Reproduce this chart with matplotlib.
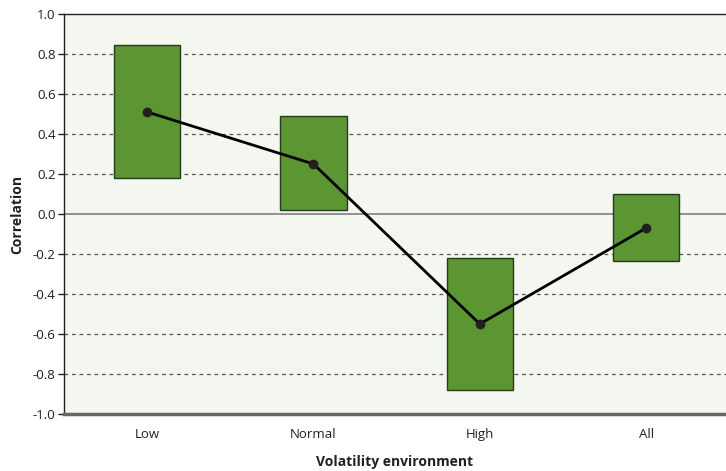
import matplotlib.pyplot as plt

categories = ["Low", "Normal", "High", "All"]
upper = [0.845, 0.49, -0.22, 0.10]
lower = [0.18, 0.02, -0.88, -0.235]
point = [0.51, 0.25, -0.55, -0.07]

plt.rcParams["font.family"] = ["Open Sans", "DejaVu Sans"]

fig = plt.figure(figsize=(7.26, 4.71), dpi=100)
ax = fig.add_axes([64 / 726, 57 / 471, 662 / 726, 400 / 471])
ax.set_facecolor("#f4f6f0")

x = list(range(len(categories)))
heights = [u - l for u, l in zip(upper, lower)]
ax.bar(x, heights, bottom=lower, width=0.4, color="#5b9632",
       edgecolor="#2a3a20", linewidth=1, zorder=3)
ax.plot(x, point, color="black", linewidth=2, marker="o", markersize=6,
        markerfacecolor="#231f20", markeredgecolor="#231f20", zorder=4)

ax.set_xlim(-0.5, 3.48)
ax.set_ylim(-1.0, 1.0)
yt = [-1.0 + 0.2 * i for i in range(11)]
ax.set_yticks(yt)
ax.set_yticklabels([f"{v:.1f}" for v in yt], fontsize=9.5, color="#231f20")
ax.set_xticks(x)
ax.set_xticklabels(categories, fontsize=9.5, color="#231f20")
ax.tick_params(axis="x", length=0, pad=10)
ax.tick_params(axis="y", length=4, width=1, color="#231f20", pad=2)

# dashed gridlines, solid line at zero
for v in yt[1:-1]:
    if abs(v) < 1e-9:
        ax.axhline(0, color="#808080", linewidth=1.2, zorder=2)
    else:
        ax.axhline(v, color="#555555", linewidth=0.9, linestyle=(0, (3, 3)), zorder=2)

ax.spines["right"].set_visible(False)
ax.spines["top"].set_color("#231f20")
ax.spines["top"].set_linewidth(1)
ax.spines["left"].set_color("#231f20")
ax.spines["left"].set_linewidth(1)
ax.spines["bottom"].set_color("#666666")
ax.spines["bottom"].set_linewidth(2.5)

ax.set_ylabel("Correlation", fontsize=10, fontweight="bold", color="#231f20", labelpad=6)
ax.set_xlabel("Volatility environment", fontsize=10, fontweight="bold", color="#231f20", labelpad=10)

fig.savefig("out.png", dpi=100)
